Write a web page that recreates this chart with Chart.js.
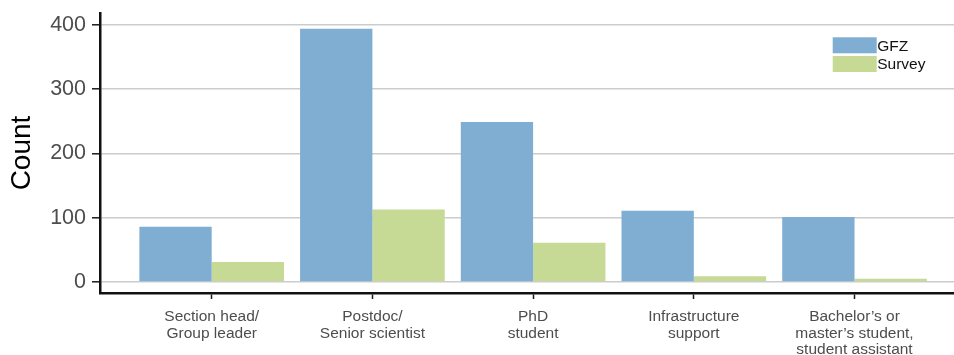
<!DOCTYPE html>
<html>
<head>
<meta charset="utf-8">
<script src="https://cdn.jsdelivr.net/npm/chart.js@4.4.1/dist/chart.umd.min.js"></script>
<style>
  html, body { margin: 0; padding: 0; background: #ffffff; }
  #wrap { width: 954px; height: 355px; }
</style>
</head>
<body>
<div id="wrap"><canvas id="c" width="954" height="355"></canvas></div>
<script>
// Staff positions, each label split into its printed lines
const categories = [
  ['Section head/', 'Group leader'],
  ['Postdoc/', 'Senior scientist'],
  ['PhD', 'student'],
  ['Infrastructure', 'support'],
  ["Bachelor\u2019s or", "master\u2019s student,", 'student assistant']
];
const positions = [1, 2, 3, 4, 5];
const seriesNames = ['GFZ', 'Survey'];
const gfzCounts = [86, 394, 249, 111, 101];
const surveyCounts = [31, 113, 61, 9, 5];
const yTicks = [0, 100, 200, 300, 400];

const colors = ['#80AED2', '#C6DA95'];
const sans = "'Liberation Sans', Arial, sans-serif";
const labelGray = '#4d4d4d';

function points(values) {
  return positions.map((x, i) => ({ x: x, y: values[i] }));
}

// Stacked key in the upper right of the plot
const keyPlugin = {
  id: 'stackedKey',
  afterDraw(chart) {
    const ctx = chart.ctx;
    const area = chart.chartArea;
    const x0 = area.right - 121.3;
    const y0 = area.top + 24.3;
    const w = 44, h = 16, step = 18.7;
    ctx.save();
    chart.data.datasets.forEach((ds, i) => {
      const y = y0 + i * step;
      ctx.fillStyle = ds.backgroundColor;
      ctx.fillRect(x0, y, w, h);
      ctx.fillStyle = '#111111';
      ctx.font = '15.5px ' + sans;
      ctx.textBaseline = 'middle';
      ctx.textAlign = 'left';
      ctx.fillText(ds.label, x0 + w + 0.5, y + h / 2 + 1);
    });
    ctx.restore();
  }
};

new Chart(document.getElementById('c'), {
  type: 'bar',
  data: {
    datasets: [
      { label: seriesNames[0], data: points(gfzCounts), backgroundColor: colors[0] },
      { label: seriesNames[1], data: points(surveyCounts), backgroundColor: colors[1] }
    ]
  },
  options: {
    responsive: false,
    devicePixelRatio: 1,
    animation: false,
    events: [],
    layout: { padding: { top: 13, right: 0, bottom: 0, left: 0 } },
    datasets: { bar: { categoryPercentage: 0.9, barPercentage: 1.0, borderWidth: 0 } },
    plugins: { legend: { display: false }, tooltip: { enabled: false } },
    scales: {
      x: {
        type: 'linear',
        offset: false,
        min: 0.305,
        max: 5.619,
        afterBuildTicks(scale) { scale.ticks = positions.map(v => ({ value: v })); },
        afterFit(scale) {
          scale.height = 62;
          scale.paddingLeft = 0;
          scale.paddingRight = 0;
        },
        grid: {
          display: true,
          offset: false,
          drawOnChartArea: false,
          drawTicks: true,
          tickLength: 6,
          tickColor: '#1a1a1a',
          tickWidth: 1.5
        },
        border: { display: true, color: '#111111', width: 2.5 },
        ticks: {
          autoSkip: false,
          maxRotation: 0,
          padding: 9.5,
          color: labelGray,
          font: { family: sans, size: 15.5, lineHeight: 1.07 },
          callback(value) { return categories[positions.indexOf(value)]; }
        }
      },
      y: {
        min: -17.1,
        max: 418.7,
        afterBuildTicks(scale) { scale.ticks = yTicks.map(v => ({ value: v })); },
        afterFit(scale) {
          scale.width = 100;
          scale.paddingTop = 0;
          scale.paddingBottom = 0;
        },
        grid: {
          color: '#cccccc',
          lineWidth: 1.6,
          drawTicks: true,
          tickLength: 8,
          tickColor: '#1a1a1a',
          tickWidth: 1.5
        },
        border: { display: true, color: '#111111', width: 2.5 },
        ticks: {
          padding: 6,
          color: labelGray,
          font: { family: sans, size: 21.5 }
        },
        title: {
          display: true,
          text: 'Count',
          color: '#000000',
          font: { family: sans, size: 28 },
          padding: { top: 5, bottom: 0 }
        }
      }
    }
  },
  plugins: [keyPlugin]
});
</script>
</body>
</html>
